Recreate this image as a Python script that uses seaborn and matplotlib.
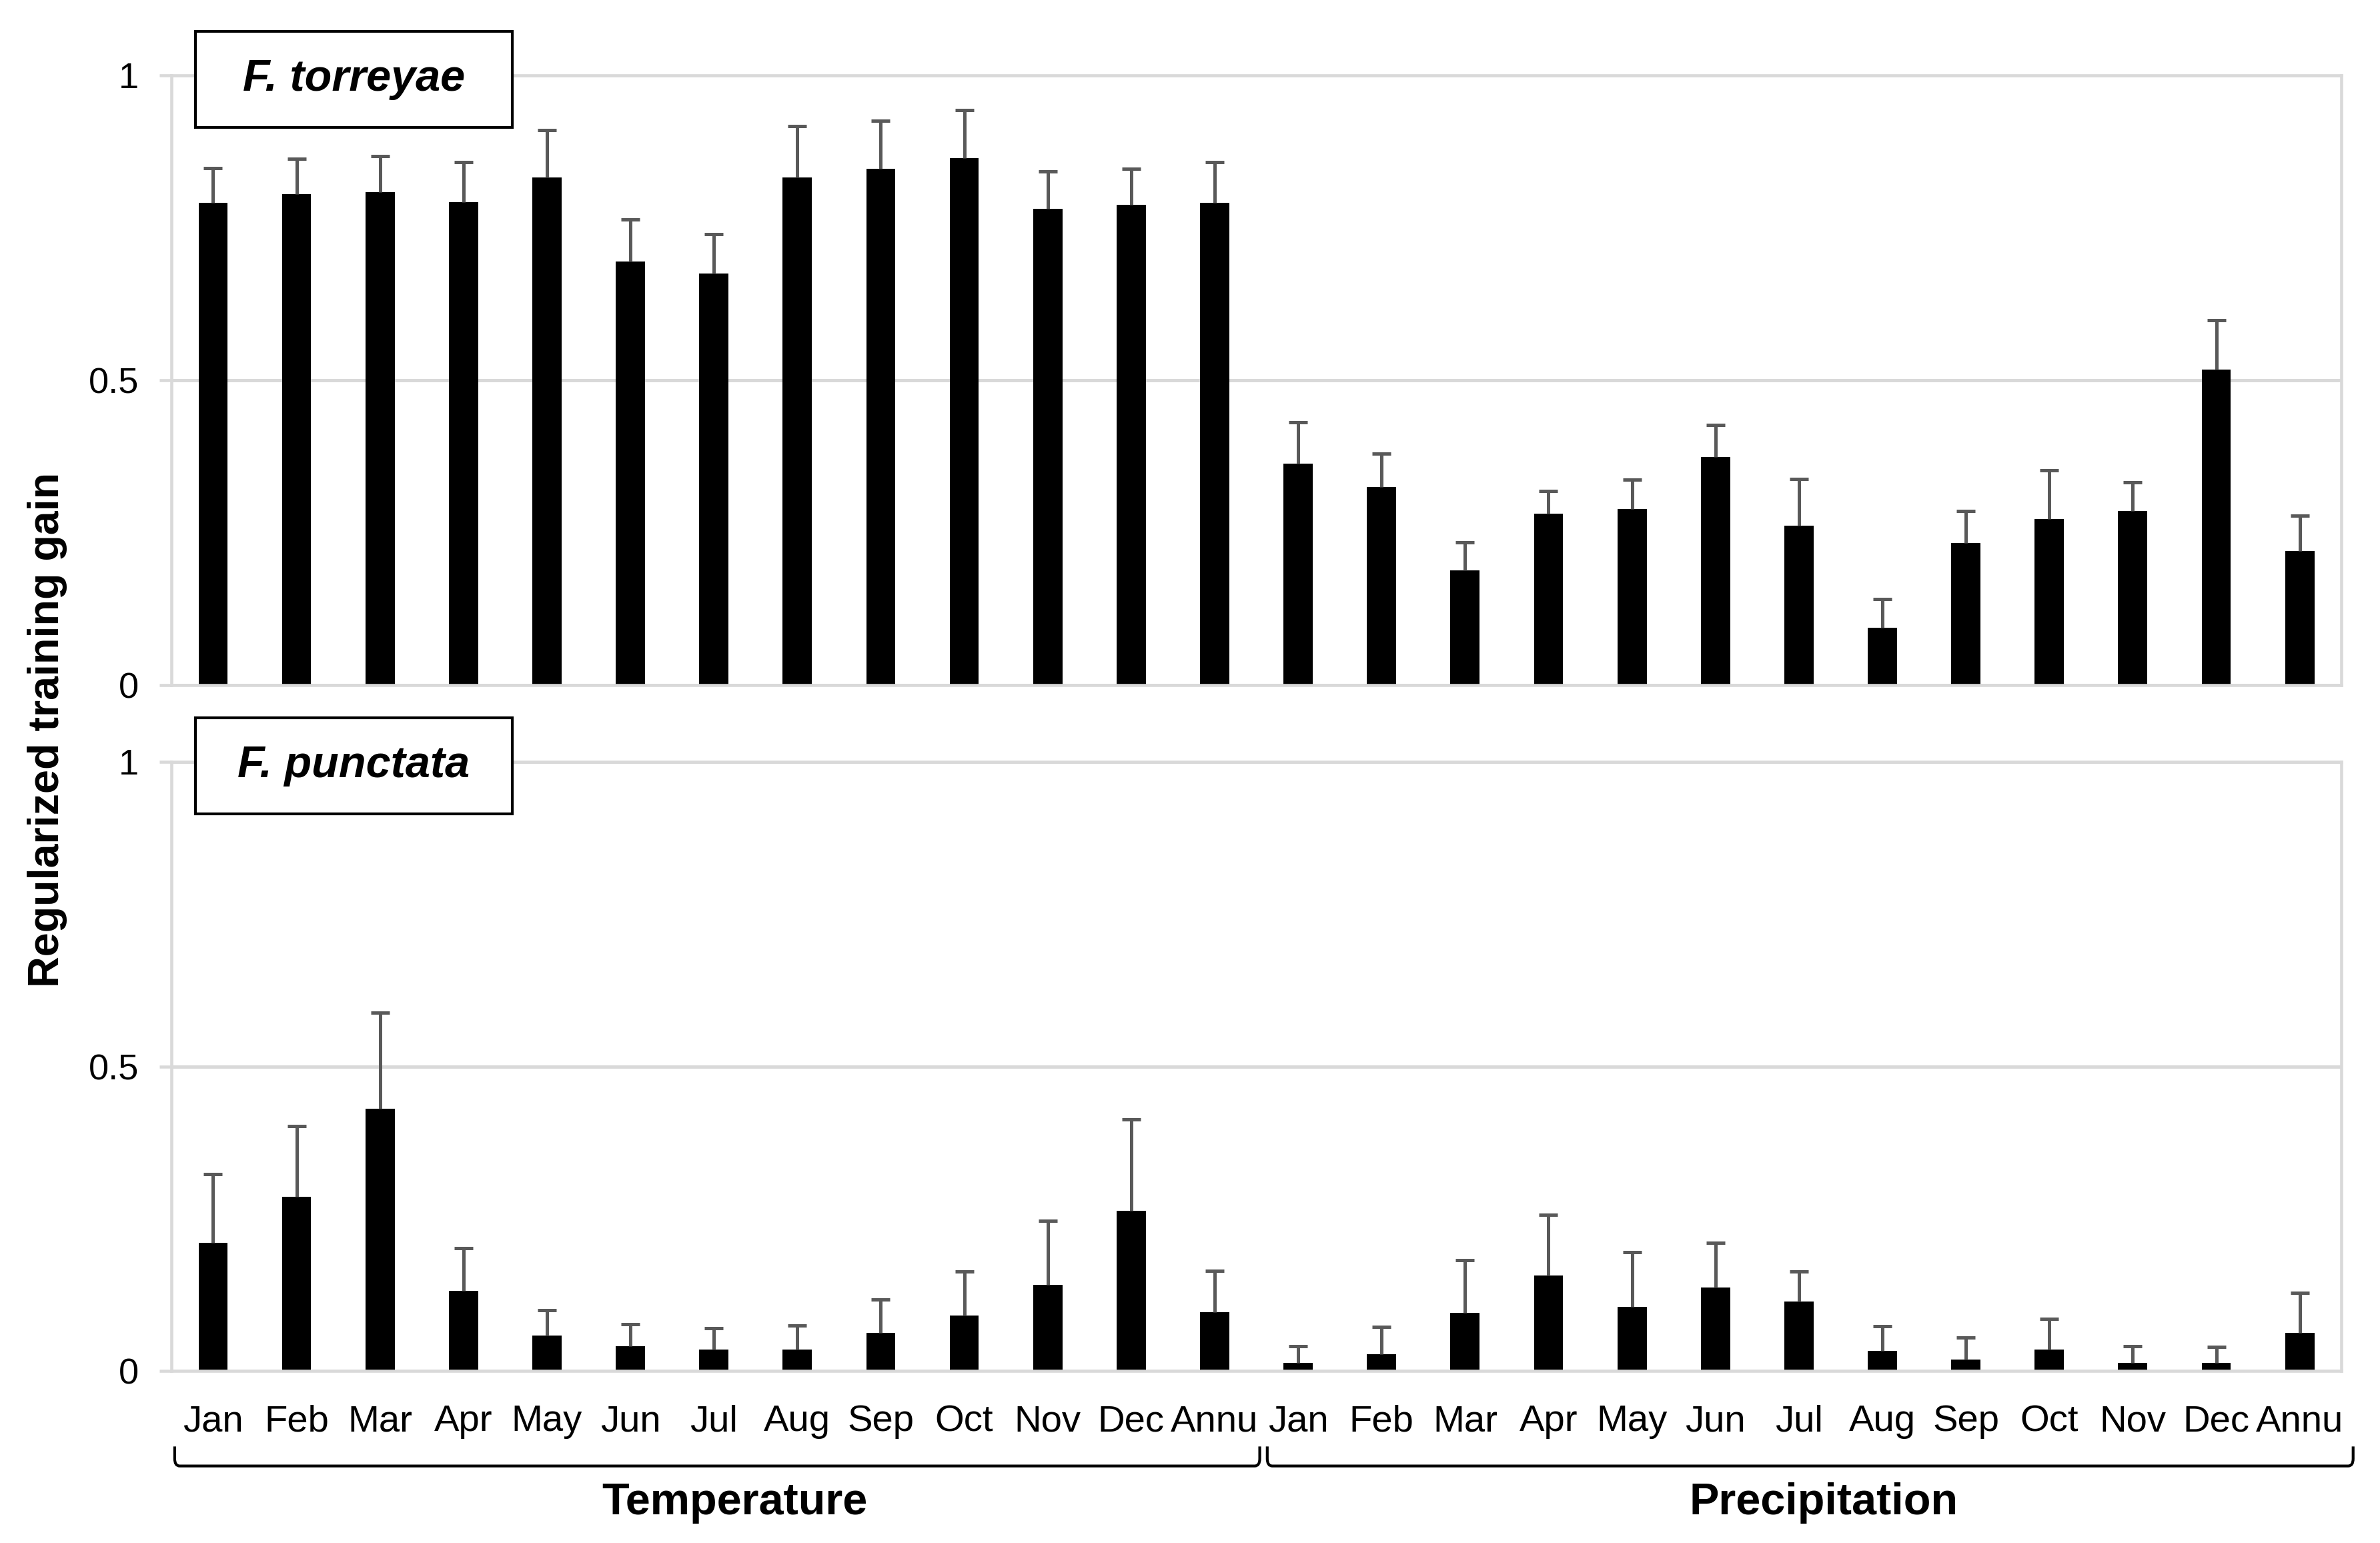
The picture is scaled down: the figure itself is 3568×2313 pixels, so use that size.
import numpy as np
import pandas as pd
import matplotlib.pyplot as plt
import matplotlib.patches as mpatches
import matplotlib.transforms as mtransforms
from matplotlib.path import Path
import seaborn as sns

# categories
months = ['Jan', 'Feb', 'Mar', 'Apr', 'May', 'Jun', 'Jul', 'Aug', 'Sep', 'Oct', 'Nov', 'Dec', 'Annu']
groups = ['Temperature', 'Precipitation']
species = ['F. torreyae', 'F. punctata']

# F. torreyae: mean gain and upper error
torreyae_temp = [0.791, 0.805, 0.808, 0.792, 0.833, 0.695, 0.675, 0.833, 0.847, 0.864, 0.781, 0.788, 0.791]
torreyae_temp_err = [0.057, 0.058, 0.059, 0.066, 0.077, 0.069, 0.064, 0.084, 0.079, 0.079, 0.061, 0.059, 0.067]
torreyae_prec = [0.363, 0.325, 0.188, 0.281, 0.289, 0.374, 0.261, 0.094, 0.233, 0.272, 0.286, 0.517, 0.220]
torreyae_prec_err = [0.068, 0.055, 0.046, 0.037, 0.048, 0.053, 0.077, 0.047, 0.053, 0.080, 0.047, 0.081, 0.058]

# F. punctata
punctata_temp = [0.210, 0.286, 0.430, 0.131, 0.058, 0.041, 0.035, 0.035, 0.063, 0.091, 0.141, 0.263, 0.096]
punctata_temp_err = [0.113, 0.116, 0.158, 0.071, 0.042, 0.036, 0.035, 0.040, 0.054, 0.072, 0.105, 0.150, 0.068]
punctata_prec = [0.013, 0.027, 0.095, 0.157, 0.105, 0.137, 0.114, 0.033, 0.019, 0.035, 0.013, 0.013, 0.063]
punctata_prec_err = [0.028, 0.045, 0.087, 0.099, 0.090, 0.073, 0.049, 0.040, 0.036, 0.050, 0.028, 0.027, 0.065]

y_ticks = [0, 0.5, 1]
y_tick_labels = ['0', '0.5', '1']


def make_df(temp, temp_err, prec, prec_err):
    rows = []
    for g, vals, errs in [(groups[0], temp, temp_err), (groups[1], prec, prec_err)]:
        for m, v, e in zip(months, vals, errs):
            rows.append({'key': g + '_' + m, 'group': g, 'month': m, 'gain': v, 'err': e})
    return pd.DataFrame(rows)


data = {
    species[0]: make_df(torreyae_temp, torreyae_temp_err, torreyae_prec, torreyae_prec_err),
    species[1]: make_df(punctata_temp, punctata_temp_err, punctata_prec, punctata_prec_err),
}

sns.set_theme(style='white')
plt.rcParams['font.family'] = ['Liberation Sans', 'DejaVu Sans']
plt.rcParams['text.color'] = 'black'
plt.rcParams['axes.labelcolor'] = 'black'
plt.rcParams['xtick.color'] = 'black'
plt.rcParams['ytick.color'] = 'black'

grid_col = '#D9D9D9'
err_col = '#595959'

fig = plt.figure(figsize=(3568 / 300, 2313 / 300), dpi=300)
ax_top = fig.add_axes([0.0720, 0.5560, 0.9118, 0.3952])
ax_bot = fig.add_axes([0.0720, 0.1115, 0.9118, 0.3948])

for ax, sp in zip([ax_top, ax_bot], species):
    df = data[sp]
    order = list(df['key'])
    sns.barplot(data=df, x='key', y='gain', order=order, color='black',
                saturation=1, width=0.35, errorbar=None, ax=ax, zorder=2,
                edgecolor='black', linewidth=0)
    xs = np.arange(len(df))
    eb = ax.errorbar(xs, df['gain'], yerr=[np.zeros(len(df)), df['err']], fmt='none',
                     ecolor=err_col, elinewidth=1.2, capsize=3.4, capthick=1.2, zorder=3)
    eb[1][0].set_visible(False)  # no lower caps

    ax.set_ylim(0, 1)
    ax.set_xlim(-0.5, len(df) - 0.5)
    ax.set_yticks(y_ticks)
    ax.set_yticklabels(y_tick_labels)
    ax.yaxis.grid(True, color=grid_col, lw=1.2)
    ax.set_axisbelow(True)
    ax.set_xlabel('')
    ax.set_ylabel('')
    for s in ax.spines.values():
        s.set_color(grid_col)
        s.set_linewidth(1.1)
    ax.tick_params(axis='y', length=4.3, width=1.1, color=grid_col, labelsize=13,
                   labelcolor='black', pad=7.4, left=True)
    ax.tick_params(axis='x', length=0, pad=12, labelsize=13.5, labelcolor='black')

    # species label box
    ax.add_patch(mpatches.Rectangle((0.011, 0.915), 0.146, 0.157, transform=ax.transAxes,
                                    facecolor='white', edgecolor='black', lw=1.0,
                                    clip_on=False, zorder=5))
    ax.text(0.084, 0.993, sp, transform=ax.transAxes, ha='center', va='center',
            fontsize=16, fontweight='bold', fontstyle='italic', color='black', zorder=6)

ax_top.set_xticklabels([])
ax_bot.set_xticks(np.arange(len(months) * 2))
ax_bot.set_xticklabels(months + months)

# group brackets below the x labels
trans = mtransforms.blended_transform_factory(ax_bot.transData, ax_bot.transAxes)
spans = [(-0.46, 12.54), (12.63, 25.64)]
label_x = [6.25, 19.3]
y_hi, y_lo, r_y, r_x = -0.124, -0.156, 0.012, 0.06
for (x0, x1), g, lx in zip(spans, groups, label_x):
    verts = [(x0, y_hi), (x0, y_lo + r_y), (x0, y_lo), (x0 + r_x, y_lo),
             (x1 - r_x, y_lo), (x1, y_lo), (x1, y_lo + r_y), (x1, y_hi)]
    codes = [Path.MOVETO, Path.LINETO, Path.CURVE3, Path.CURVE3,
             Path.LINETO, Path.CURVE3, Path.CURVE3, Path.LINETO]
    ax_bot.add_patch(mpatches.PathPatch(Path(verts, codes), transform=trans, fill=False,
                                        edgecolor='black', lw=1.0, clip_on=False))
    ax_bot.text(lx, -0.217, g, transform=trans, ha='center', va='center',
                fontsize=16, fontweight='bold', color='black')

fig.text(0.020, 0.527, 'Regularized training gain', rotation=90, ha='center', va='center',
         fontsize=15.5, fontweight='bold', color='black')

fig.savefig('out.png', dpi=300)
